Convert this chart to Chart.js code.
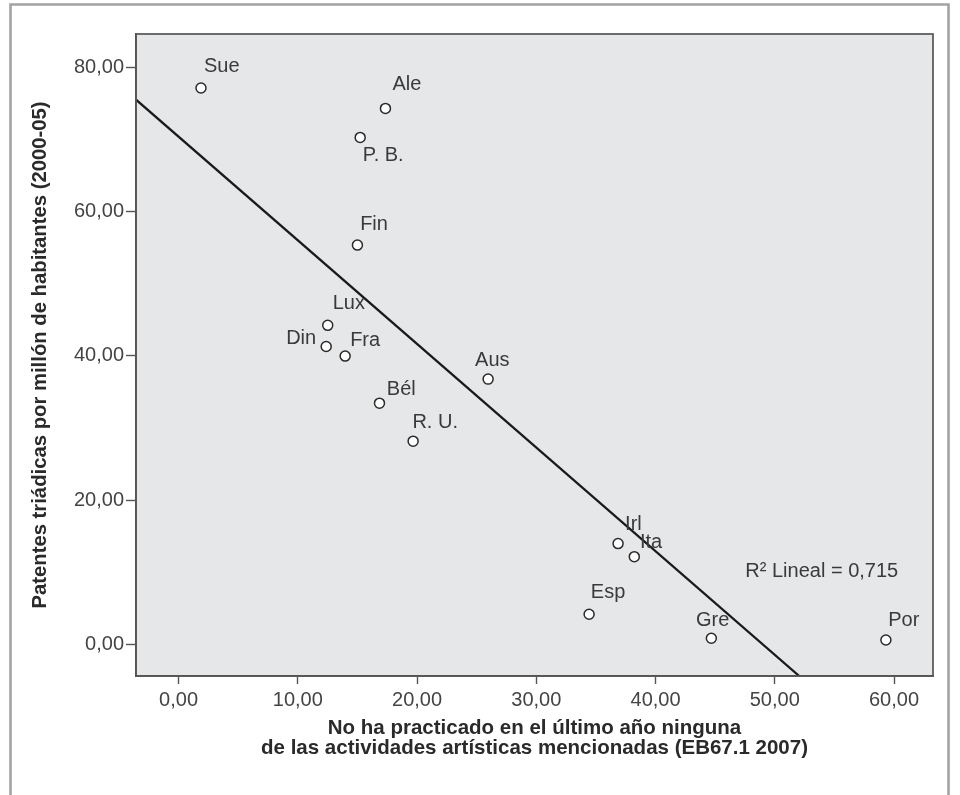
<!DOCTYPE html>
<html>
<head>
<meta charset="utf-8">
<script src="https://cdn.jsdelivr.net/npm/chart.js@4.4.0/dist/chart.umd.min.js"></script>
<style>
  html, body { margin: 0; padding: 0; background: #ffffff; }
  #wrap { position: relative; width: 960px; height: 795px; }
</style>
</head>
<body>
<div id="wrap"><canvas id="c" width="960" height="795"></canvas></div>
<script>
// ---- data ----
const countries = ['Sue', 'Ale', 'P. B.', 'Fin', 'Lux', 'Din', 'Fra', 'Aus', 'Bél', 'R. U.', 'Irl', 'Ita', 'Esp', 'Gre', 'Por'];
const noArtActivity = [1.88, 17.35, 15.23, 15.00, 12.51, 12.38, 13.97, 25.96, 16.85, 19.67, 36.86, 38.22, 34.43, 44.68, 59.32];
const triadicPatents = [77.14, 74.31, 70.29, 55.36, 44.23, 41.29, 39.96, 36.77, 33.44, 28.17, 13.96, 12.15, 4.16, 0.83, 0.60];
const fitLineX = [-3.57, 52.05];
const fitLineY = [75.52, -4.40];
const xTickValues = [0, 10, 20, 30, 40, 50, 60];
const yTickValues = [0, 20, 40, 60, 80];
const fitLabel = 'R² Lineal = 0,715';
const fitLabelX = 47.53;
const fitLabelY = 10.03;

// ---- label placement (styling, pixels relative to point) ----
const labelPlacement = {
  'Sue':   { dx: 3,   dy: -21.6, align: 'left' },
  'Ale':   { dx: 7,   dy: -23.7, align: 'left' },
  'P. B.': { dx: 2.7, dy: 18,    align: 'left' },
  'Fin':   { dx: 2.7, dy: -20.6, align: 'left' },
  'Lux':   { dx: 5,   dy: -22,   align: 'left' },
  'Din':   { dx: -10, dy: -8,    align: 'right' },
  'Fra':   { dx: 5,   dy: -15.5, align: 'left' },
  'Aus':   { dx: -13, dy: -19,   align: 'left' },
  'Bél':   { dx: 7.3, dy: -14,   align: 'left' },
  'R. U.': { dx: -0.7,dy: -19,   align: 'left' },
  'Irl':   { dx: 7,   dy: -19.5, align: 'left' },
  'Ita':   { dx: 5.7, dy: -14.5, align: 'left' },
  'Esp':   { dx: 1.7, dy: -21.5, align: 'left' },
  'Gre':   { dx: -15.3, dy: -17.5, align: 'left' },
  'Por':   { dx: 2.3, dy: -19,   align: 'left' }
};

const FONT = "'Liberation Sans', Arial, Helvetica, sans-serif";
const fmt = v => Number(v).toFixed(2).replace('.', ',');

const scatterPoints = noArtActivity.map((x, i) => ({ x: x, y: triadicPatents[i] }));
const linePoints = fitLineX.map((x, i) => ({ x: x, y: fitLineY[i] }));

const frameAndBackground = {
  id: 'frameAndBackground',
  beforeDraw(chart) {
    const { ctx, chartArea: a } = chart;
    ctx.save();
    ctx.fillStyle = '#ffffff';
    ctx.fillRect(0, 0, chart.width, chart.height);
    ctx.fillStyle = '#e6e7e9';
    ctx.fillRect(a.left, a.top, a.right - a.left, a.bottom - a.top);
    ctx.restore();
  },
  afterDraw(chart) {
    const { ctx, chartArea: a } = chart;
    ctx.save();
    // plot border
    ctx.strokeStyle = '#555555';
    ctx.lineWidth = 1.7;
    ctx.strokeRect(a.left, a.top, a.right - a.left, a.bottom - a.top);
    // outer frame (open at bottom)
    ctx.strokeStyle = '#a3a3a3';
    ctx.lineWidth = 2.6;
    ctx.beginPath();
    ctx.moveTo(10.5, chart.height + 2);
    ctx.lineTo(10.5, 4.5);
    ctx.lineTo(948.5, 4.5);
    ctx.lineTo(948.5, chart.height + 2);
    ctx.stroke();
    ctx.restore();
  }
};

const pointLabels = {
  id: 'pointLabels',
  afterDatasetsDraw(chart) {
    const { ctx, scales: { x, y } } = chart;
    ctx.save();
    ctx.font = '20px ' + FONT;
    ctx.fillStyle = '#3a3a3a';
    ctx.textBaseline = 'middle';
    countries.forEach((name, i) => {
      const p = labelPlacement[name];
      const px = x.getPixelForValue(noArtActivity[i]);
      const py = y.getPixelForValue(triadicPatents[i]);
      ctx.textAlign = p.align;
      ctx.fillText(name, px + p.dx, py + p.dy);
    });
    ctx.textAlign = 'left';
    ctx.fillText(fitLabel, x.getPixelForValue(fitLabelX), y.getPixelForValue(fitLabelY));
    ctx.restore();
  }
};

new Chart(document.getElementById('c'), {
  type: 'scatter',
  data: {
    datasets: [
      {
        type: 'line',
        label: 'Lineal',
        data: linePoints,
        borderColor: '#1a1a1a',
        borderWidth: 2.3,
        pointRadius: 0,
        fill: false,
        order: 2
      },
      {
        label: 'Países',
        data: scatterPoints,
        pointRadius: 5,
        pointHoverRadius: 5,
        pointBackgroundColor: '#ffffff',
        pointBorderColor: '#2a2a2a',
        pointBorderWidth: 1.5,
        order: 1
      }
    ]
  },
  options: {
    responsive: false,
    animation: false,
    devicePixelRatio: 1,
    layout: { padding: { left: 0, top: 34, right: 27, bottom: 0 } },
    plugins: {
      legend: { display: false },
      tooltip: { enabled: false },
      title: { display: false }
    },
    scales: {
      x: {
        type: 'linear',
        min: -3.57,
        max: 63.27,
        afterFit(s) { s.height = 119; },
        afterBuildTicks(s) { s.ticks = xTickValues.map(v => ({ value: v })); },
        border: { display: true, color: '#555555', width: 1.7 },
        grid: { display: true, drawOnChartArea: false, drawTicks: true, tickLength: 8, tickColor: '#555555', tickWidth: 1.4 },
        ticks: {
          callback: v => fmt(v),
          font: { family: FONT, size: 20 },
          color: '#444444',
          padding: 4,
          maxRotation: 0,
          autoSkip: false
        },
        title: {
          display: true,
          text: ['No ha practicado en el último año ninguna', 'de las actividades artísticas mencionadas (EB67.1 2007)'],
          font: { family: FONT, size: 20.5, weight: 'bold', lineHeight: 0.976 },
          color: '#2a2a2a',
          padding: { top: 0, bottom: 37 }
        }
      },
      y: {
        type: 'linear',
        min: -4.40,
        max: 84.63,
        afterFit(s) { s.width = 136; },
        afterBuildTicks(s) { s.ticks = yTickValues.map(v => ({ value: v })); },
        border: { display: true, color: '#555555', width: 1.7 },
        grid: { display: true, drawOnChartArea: false, drawTicks: true, tickLength: 10, tickColor: '#555555', tickWidth: 1.4 },
        ticks: {
          callback: v => fmt(v),
          font: { family: FONT, size: 20 },
          color: '#444444',
          padding: 2,
          autoSkip: false
        },
        title: {
          display: true,
          text: 'Patentes triádicas por millón de habitantes (2000-05)',
          font: { family: FONT, size: 20.3, weight: 'bold', lineHeight: 1.2 },
          color: '#2a2a2a',
          padding: { top: 28, bottom: 0 }
        }
      }
    }
  },
  plugins: [frameAndBackground, pointLabels]
});
</script>
</body>
</html>
